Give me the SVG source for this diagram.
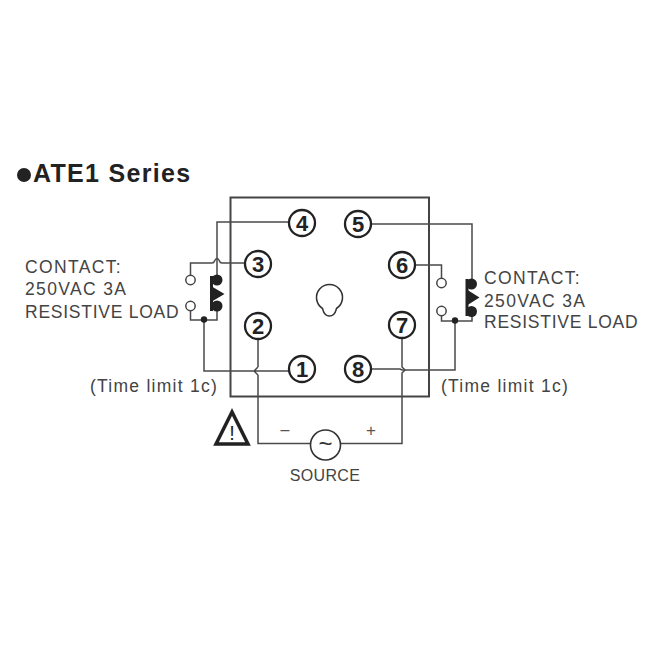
<svg xmlns="http://www.w3.org/2000/svg" width="650" height="650" viewBox="0 0 650 650">
<style>
.w{fill:none;stroke:#4a4a4a;stroke-width:1.5}
.t{font-family:"Liberation Sans",Arial,sans-serif;font-size:17.5px;fill:#444;letter-spacing:.75px}
.c{letter-spacing:1.35px}
.l{letter-spacing:1.25px}
.n circle{fill:#fff;stroke:#222;stroke-width:2.300}
.n text{font-family:"Liberation Sans",Arial,sans-serif;font-size:22px;font-weight:bold;fill:#222;text-anchor:middle}
.o{fill:#fff;stroke:#444;stroke-width:1.500}
.d{fill:#222}
</style>
<rect width="650" height="650" fill="#fff"/>
<circle cx="24" cy="175" r="7" fill="#222"/>
<text x="33" y="182" font-family="'Liberation Sans',Arial,sans-serif" font-size="25" font-weight="bold" fill="#222" letter-spacing="1.300">ATE1 Series</text>
<rect id="base" x="230.500" y="197.500" width="198.500" height="199" fill="none" stroke="#444" stroke-width="2"/>
<path id="key" d="M322.500 308.500A13 13 0 1 1 336.500 308.500C335.500 311 335.500 316 329.500 316C323.500 316 323.500 311 322.500 308.500Z" fill="none" stroke="#333" stroke-width="1.600"/>
<g id="connectors">
<path class="w" d="M289 222H217V276"/>
<path class="w" d="M245 263H222Q220 263 219.500 261Q217 256 214.500 261Q214 263 212 263H190.500V275"/>
<path class="w" d="M190.500 311V320H217V310"/>
<path class="w" d="M204 320V371H254L258 367M254 371L258 375M254 371H289"/>
<path class="w" d="M258 339V367M258 375V443.500H310M340 443.500H402V373L405 370L402 367V338"/>
<path class="w" d="M371 369H400L402 370H455V321"/>
<path class="w" d="M371 224H472V280"/>
<path class="w" d="M415 265H441.500V278"/>
<path class="w" d="M441.500 316V321H472V315"/>
<circle class="o" cx="190.500" cy="280" r="4.700"/>
<circle class="o" cx="190.500" cy="306" r="4.700"/>
<circle class="o" cx="441.500" cy="283" r="4.700"/>
<circle class="o" cx="441.500" cy="311" r="4.700"/>
<circle class="d" cx="204" cy="319.500" r="3.200"/>
<circle class="d" cx="455" cy="320.500" r="3.200"/>
</g>
<g id="relay-left">
<rect class="d" x="210" y="276" width="3" height="35"/>
<circle class="d" cx="217" cy="280" r="5.500"/>
<circle class="d" cx="217" cy="306" r="5.500"/>
<path class="d" d="M211 286L224.500 294L211 302Z"/>
</g>
<g id="relay-right">
<rect class="d" x="465.500" y="279" width="3" height="37"/>
<circle class="d" cx="471.500" cy="284" r="5.500"/>
<circle class="d" cx="471.500" cy="311.500" r="5.500"/>
<path class="d" d="M466 289L479.500 297.500L466 306Z"/>
</g>
<g id="pin1" class="n"><circle cx="302" cy="369" r="13"/><text x="302" y="377">1</text></g>
<g id="pin2" class="n"><circle cx="258" cy="326" r="13"/><text x="258" y="334">2</text></g>
<g id="pin3" class="n"><circle cx="258" cy="264" r="13"/><text x="258" y="272">3</text></g>
<g id="pin4" class="n"><circle cx="302" cy="223" r="13"/><text x="302" y="231">4</text></g>
<g id="pin5" class="n"><circle cx="358" cy="224" r="13"/><text x="358" y="232">5</text></g>
<g id="pin6" class="n"><circle cx="402" cy="265" r="13"/><text x="402" y="273">6</text></g>
<g id="pin7" class="n"><circle cx="402" cy="325" r="13"/><text x="402" y="333">7</text></g>
<g id="pin8" class="n"><circle cx="358" cy="369" r="13"/><text x="358" y="377">8</text></g>
<g id="source">
<circle cx="325.500" cy="445" r="15" fill="#fff" stroke="#333" stroke-width="1.600"/>
<text x="325.500" y="452" font-family="'Liberation Sans',Arial,sans-serif" font-size="24" fill="#333" text-anchor="middle">~</text>
<text x="325" y="481" font-family="'Liberation Sans',Arial,sans-serif" font-size="16" fill="#444" text-anchor="middle" letter-spacing="0.300">SOURCE</text>
</g>
<text x="285" y="435" font-family="'Liberation Sans',Arial,sans-serif" font-size="16" fill="#555" text-anchor="middle">–</text>
<text x="371" y="436" font-family="'Liberation Sans',Arial,sans-serif" font-size="17" fill="#555" text-anchor="middle">+</text>
<g id="warning">
<path d="M232 412L216 444H248Z" fill="#fff" stroke="#222" stroke-width="3.500" stroke-linejoin="miter"/>
<text x="232" y="440" font-family="'Liberation Sans',Arial,sans-serif" font-size="20" fill="#222" text-anchor="middle">!</text>
</g>
<g id="label-left" class="t"><text class="c" x="25" y="273">CONTACT:</text><text class="c" x="25" y="295">250VAC 3A</text><text x="25" y="318">RESISTIVE LOAD</text></g>
<g id="label-right" class="t"><text class="c" x="484" y="284">CONTACT:</text><text class="c" x="484" y="307">250VAC 3A</text><text x="484" y="328">RESISTIVE LOAD</text></g>
<text class="t l" x="90" y="392">(Time limit 1c)</text>
<text class="t l" x="441" y="392">(Time limit 1c)</text>
</svg>
